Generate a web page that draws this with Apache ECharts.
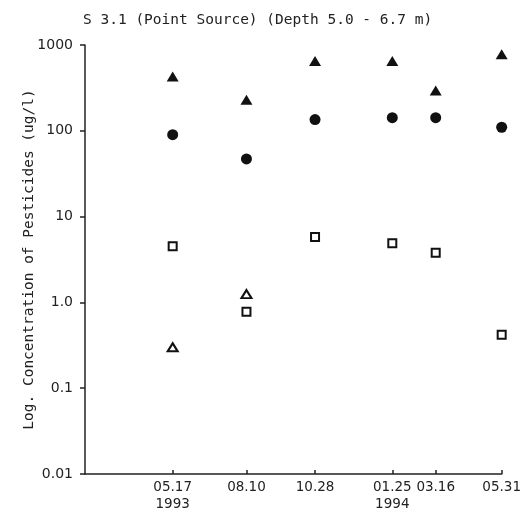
<!DOCTYPE html>
<html>
<head>
<meta charset="utf-8">
<script src="https://cdn.jsdelivr.net/npm/echarts@6/dist/echarts.min.js"></script>
<style>
  html, body { margin: 0; padding: 0; background: #fff; }
  #chart { width: 524px; height: 517px; }
</style>
</head>
<body>
<div id="chart"></div>
<script>
// sampling dates and the labels under each tick
var dates = ['1993-05-17', '1993-08-10', '1993-10-28', '1994-01-25', '1994-03-16', '1994-05-31'];
var dateLabels = ['05.17\n1993', '08.10', '10.28', '01.25\n1994', '03.16', '05.31'];
var yTickLabels = ['0.01', '0.1', '1.0', '10', '100', '1000'];
var axisStart = '1993-02-05';

// concentrations (ug/l)
var filledTriangle = [430, 230, 650, 650, 295, 780];
var filledCircle = [90, 47, 135, 142, 142, 110];
var openSquare = [4.5, 0.78, 5.8, 4.9, 3.8, 0.42];
var openTriangle = [0.30, 1.25, null, null, null, null];

// days since the first sampling date
function dayNo(d) {
  var p = d.split('-');
  var q = dates[0].split('-');
  return Math.round((Date.UTC(+p[0], +p[1] - 1, +p[2]) - Date.UTC(+q[0], +q[1] - 1, +q[2])) / 86400000);
}
var tickDays = dates.map(dayNo);

function pairs(vals) {
  var out = [];
  for (var i = 0; i < vals.length; i++) {
    if (vals[i] != null) out.push([tickDays[i], vals[i]]);
  }
  return out;
}

var mono = 'DejaVu Sans Mono';
var sans = 'DejaVu Sans';
var ink = '#222';
var mark = '#111';

var myChart = echarts.init(document.getElementById('chart'));
myChart.setOption({
  backgroundColor: '#fff',
  animation: false,
  title: {
    text: 'S 3.1 (Point Source) (Depth 5.0 - 6.7 m)',
    left: 78,
    top: 8,
    textStyle: { fontFamily: mono, fontSize: 14.5, fontWeight: 'normal', color: ink }
  },
  grid: { left: 85, right: 22, top: 45, bottom: 43 },
  xAxis: {
    type: 'value',
    min: dayNo(axisStart),
    max: tickDays[tickDays.length - 1],
    splitLine: { show: false },
    axisLine: { onZero: false, lineStyle: { color: ink, width: 1.5 } },
    axisTick: {
      inside: true,
      length: 4,
      customValues: tickDays,
      lineStyle: { color: ink, width: 1.5 }
    },
    axisLabel: {
      customValues: tickDays,
      margin: 5,
      lineHeight: 17,
      color: ink,
      fontFamily: sans,
      fontSize: 13.5,
      formatter: function (v) {
        var i = tickDays.indexOf(v);
        return i >= 0 ? dateLabels[i] : '';
      }
    }
  },
  yAxis: {
    type: 'log',
    logBase: 10,
    min: 0.01,
    max: 1000,
    name: 'Log. Concentration of Pesticides (ug/l)',
    nameLocation: 'middle',
    nameGap: 48,
    nameMoveOverlap: false,
    nameTextStyle: { fontFamily: mono, fontSize: 14.5, color: ink },
    splitLine: { show: false },
    axisLine: { show: true, onZero: false, lineStyle: { color: ink, width: 1.5 } },
    axisTick: { length: 5, lineStyle: { color: ink, width: 1.5 } },
    axisLabel: {
      margin: 12,
      color: ink,
      fontFamily: sans,
      fontSize: 14,
      formatter: function (v) {
        return yTickLabels[Math.round(Math.log10(v)) + 2];
      }
    }
  },
  series: [
    {
      type: 'scatter',
      data: pairs(filledTriangle),
      symbol: 'triangle',
      symbolSize: [12, 10],
      itemStyle: { color: mark, opacity: 1 }
    },
    {
      type: 'scatter',
      data: pairs(filledCircle),
      symbol: 'circle',
      symbolSize: 11,
      itemStyle: { color: mark, opacity: 1 }
    },
    {
      type: 'scatter',
      data: pairs(openSquare),
      symbol: 'rect',
      symbolSize: 8,
      itemStyle: { color: '#fff', borderColor: mark, borderWidth: 2, opacity: 1 }
    },
    {
      type: 'scatter',
      data: pairs(openTriangle),
      symbol: 'triangle',
      symbolSize: [10, 8],
      itemStyle: { color: '#fff', borderColor: mark, borderWidth: 2, opacity: 1 }
    }
  ]
});
</script>
</body>
</html>
